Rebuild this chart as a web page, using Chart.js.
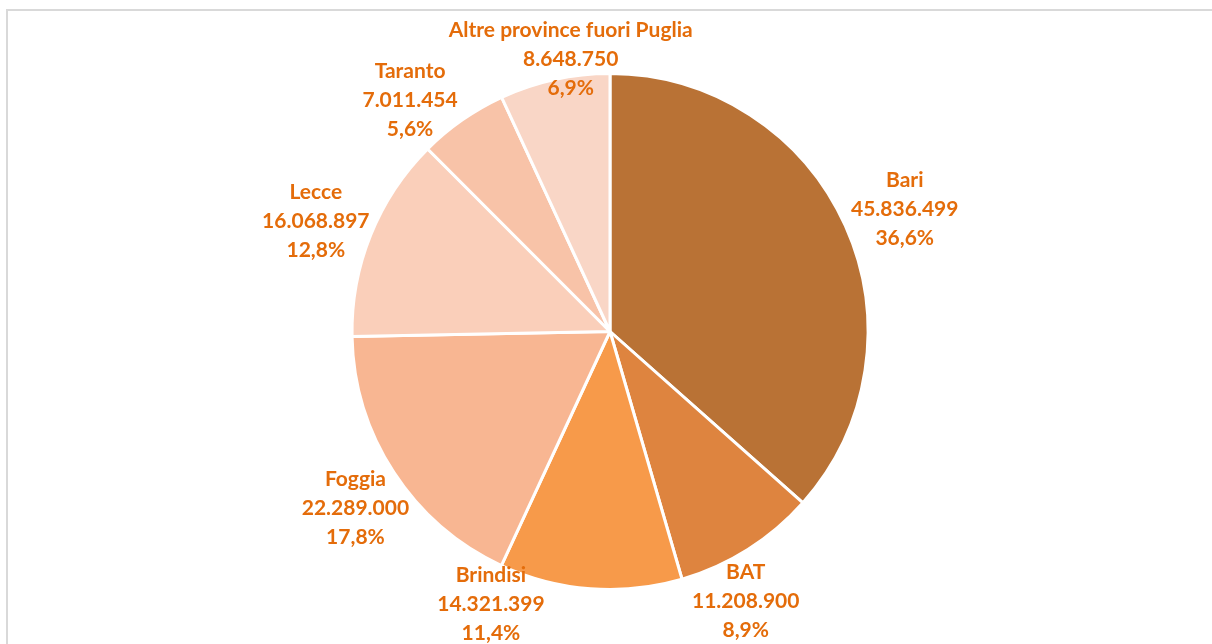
<!DOCTYPE html>
<html>
<head>
<meta charset="utf-8">
<script src="https://cdn.jsdelivr.net/npm/chart.js@4/dist/chart.umd.min.js"></script>
<style>
  body { margin: 0; background: #fff; overflow: hidden; }
  #wrap { position: relative; width: 1212px; height: 644px; }
  #frame {
    position: absolute; left: 6px; top: 9px; width: 1300px; height: 700px;
    border-top: 2px solid #d9d9d9; border-left: 2px solid #d9d9d9;
  }
  canvas { position: absolute; left: 0; top: 0; }
</style>
</head>
<body>
<div id="wrap">
  <div id="frame"></div>
  <canvas id="provincePie" width="1212" height="644"></canvas>
</div>
<script>
const provinces = ['Bari', 'BAT', 'Brindisi', 'Foggia', 'Lecce', 'Taranto', 'Altre province fuori Puglia'];
const amounts = [45836499, 11208900, 14321399, 22289000, 16068897, 7011454, 8648750];
const sliceColors = ['#b97235', '#de843f', '#f79a4a', '#f8b692', '#facfba', '#f8c3a8', '#f9d6c6'];

// label nudges: extra angle (deg) and distance beyond the outer radius (px)
const labelShift = [
  { da: 1.7, dr: 61 },
  { da: 5.6, dr: 44 },
  { da: 19.2, dr: 40 },
  { da: -1.7, dr: 52 },
  { da: -1.5, dr: 56 },
  { da: -5.9, dr: 48 },
  { da: 4.2, dr: 17 }
];

const total = amounts.reduce((a, b) => a + b, 0);

function fmtThousands(n) {
  return String(n).replace(/\B(?=(\d{3})+(?!\d))/g, '.');
}
function fmtPct(n) {
  return (n / total * 100).toFixed(1).replace('.', ',') + '%';
}

const sliceLabels = {
  id: 'sliceLabels',
  afterDatasetsDraw(chart) {
    const ctx = chart.ctx;
    const meta = chart.getDatasetMeta(0);
    ctx.save();
    ctx.fillStyle = '#e46c0a';
    ctx.font = 'bold 21px Lato, "Open Sans", sans-serif';
    ctx.textAlign = 'center';
    ctx.textBaseline = 'middle';
    meta.data.forEach((arc, i) => {
      const p = arc.getProps(['x', 'y', 'startAngle', 'endAngle', 'outerRadius'], true);
      const shift = labelShift[i];
      const mid = (p.startAngle + p.endAngle) / 2 + shift.da * Math.PI / 180;
      const dist = p.outerRadius + shift.dr;
      const x = p.x + Math.cos(mid) * dist;
      const y = p.y + Math.sin(mid) * dist;
      const lines = [provinces[i], fmtThousands(amounts[i]), fmtPct(amounts[i])];
      lines.forEach((t, k) => ctx.fillText(t, x, y + (k - 1) * 29));
    });
    ctx.restore();
  }
};

new Chart(document.getElementById('provincePie'), {
  type: 'pie',
  data: {
    labels: provinces,
    datasets: [{
      data: amounts,
      backgroundColor: sliceColors,
      borderColor: '#ffffff',
      borderWidth: 3
    }]
  },
  options: {
    responsive: false,
    animation: false,
    layout: { padding: { top: 72, bottom: 53, left: 8, right: 0 } },
    plugins: {
      legend: { display: false },
      tooltip: { enabled: false }
    }
  },
  plugins: [sliceLabels]
});
</script>
</body>
</html>
